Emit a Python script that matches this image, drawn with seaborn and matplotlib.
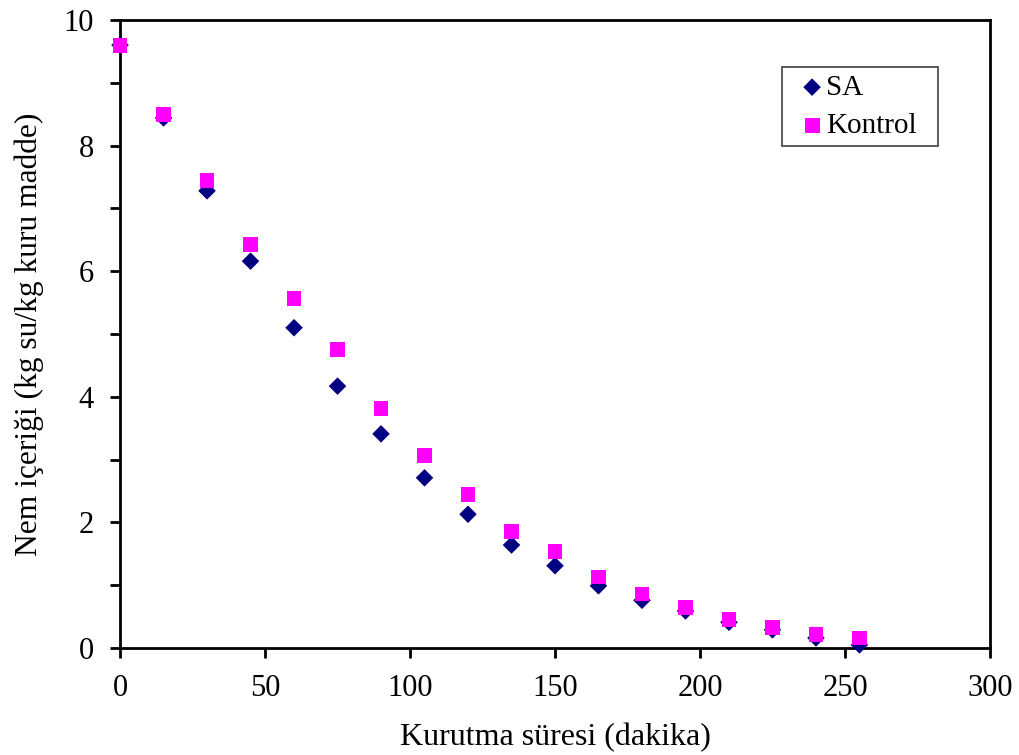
import matplotlib
matplotlib.use("Agg")
import matplotlib.pyplot as plt
import seaborn as sns
import pandas as pd
from matplotlib.ticker import MultipleLocator

# Drying time (min) and moisture content (kg water / kg dry matter)
time_min = [0, 15, 30, 45, 60, 75, 90, 105, 120, 135, 150, 165, 180, 195, 210, 225, 240, 255]
sa_moisture = [9.60, 8.44, 7.28, 6.16, 5.10, 4.17, 3.41, 2.71, 2.13, 1.64, 1.31, 0.99, 0.76,
               0.59, 0.41, 0.29, 0.16, 0.05]
kontrol_moisture = [9.60, 8.49, 7.44, 6.43, 5.57, 4.75, 3.82, 3.06, 2.44, 1.86, 1.53, 1.13, 0.86,
                    0.65, 0.46, 0.33, 0.21, 0.16]

df_sa = pd.DataFrame({"t": time_min, "m": sa_moisture})
df_k = pd.DataFrame({"t": time_min, "m": kontrol_moisture})

sns.set_style("white")
plt.rcParams["font.family"] = ["Liberation Serif", "DejaVu Serif"]
plt.rcParams["text.color"] = "black"
plt.rcParams["axes.labelcolor"] = "black"

fig = plt.figure(figsize=(10.19, 7.55), dpi=100)
ax = fig.add_axes([0.1178, 0.1417, 0.8537, 0.8318])

sns.scatterplot(data=df_sa, x="t", y="m", ax=ax, marker="D", s=80, color="#000080",
                edgecolor="none", label="SA", zorder=3, clip_on=False)
sns.scatterplot(data=df_k, x="t", y="m", ax=ax, marker="s", s=115, color="#FF00FF",
                edgecolor="none", label="Kontrol", zorder=4, clip_on=False)

ax.set_xlim(0, 300)
ax.set_ylim(0, 10)
ax.xaxis.set_major_locator(MultipleLocator(50))
ax.yaxis.set_major_locator(MultipleLocator(2))
ax.yaxis.set_minor_locator(MultipleLocator(1))

for side in ["left", "bottom", "top", "right"]:
    ax.spines[side].set_visible(True)
    ax.spines[side].set_color("black")
    ax.spines[side].set_linewidth(2.0)

ax.tick_params(axis="both", which="both", direction="out", colors="black",
               labelsize=22, width=2.0, bottom=True, left=True, top=False, right=False)
ax.tick_params(axis="x", which="major", length=7, pad=12)
ax.tick_params(axis="y", which="both", length=7, pad=12)

ax.set_xlabel("Kurutma süresi (dakika)", fontsize=23, labelpad=14)
ax.set_ylabel("Nem içeriği (kg su/kg kuru madde)", fontsize=22.7, labelpad=14)

leg = ax.legend(loc="upper left", bbox_to_anchor=(0.761, 0.801, 0.179, 0.124), mode="expand",
                fontsize=21, frameon=True, fancybox=False, edgecolor="#404040", framealpha=1,
                handletextpad=-0.30, handlelength=1.56, borderpad=0.25, borderaxespad=0,
                labelspacing=0.4)
leg.get_frame().set_linewidth(1.2)

fig.savefig("out.png", dpi=100)
